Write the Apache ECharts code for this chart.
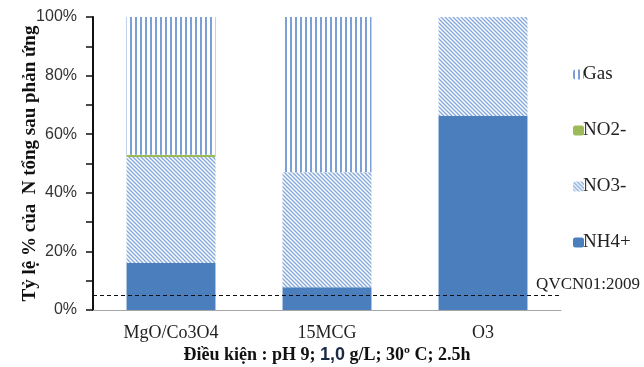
<!DOCTYPE html>
<html>
<head>
<meta charset="utf-8">
<script src="https://cdn.jsdelivr.net/npm/echarts@6/dist/echarts.min.js"></script>
<style>
  html, body { margin: 0; padding: 0; background: #fff; }
  #chart { width: 644px; height: 367px; }
</style>
</head>
<body>
<div id="chart"></div>
<script>
// du lieu doc tu hinh
const categories = ['MgO/Co3O4', '15MCG', 'O3'];
const nh4 = [16, 7.8, 66.2];
const no3 = [36.2, 39.2, 33.8];
const no2 = [0.8, 0, 0];
const gas = [47, 53, 0];
const qvcnLimit = 5;
const yTicks = [0, 20, 40, 60, 80, 100];

const SERIF = '"Liberation Serif", "DejaVu Serif", serif';
const SANS = '"Liberation Sans", Arial, sans-serif';

// nen soc cheo cho NO3- (canvas)
function makeDiagonal() {
  const s = 4;
  const c = document.createElement('canvas');
  c.width = s; c.height = s;
  const ctx = c.getContext('2d');
  ctx.fillStyle = '#fff';
  ctx.fillRect(0, 0, s, s);
  ctx.strokeStyle = '#86a9db';
  ctx.lineWidth = 1.4;
  ctx.beginPath();
  ctx.moveTo(-1, -1); ctx.lineTo(s + 1, s + 1);
  ctx.moveTo(-1 - s, -1); ctx.lineTo(1, s + 1);
  ctx.moveTo(s - 1, -1); ctx.lineTo(2 * s + 1, s + 1);
  ctx.stroke();
  return c;
}

const chart = echarts.init(document.getElementById('chart'));

const option = {
  animation: false,
  backgroundColor: '#fff',
  grid: { left: 93, right: 83, top: 17, bottom: 57, containLabel: false, outerBoundsMode: 'none' },
  legend: {
    orient: 'vertical',
    left: 568,
    top: 60,
    itemWidth: 11,
    itemHeight: 10,
    itemGap: 37,
    data: ['Gas', 'NO2-', 'NO3-', 'NH4+'],
    textStyle: { fontFamily: SERIF, fontSize: 19, color: '#222', padding: [0, 0, 0, -6] }
  },
  xAxis: {
    type: 'category',
    data: categories,
    axisLine: { lineStyle: { color: '#a6a6a6', width: 1 } },
    axisTick: { show: false },
    axisLabel: { fontFamily: SERIF, fontSize: 18, color: '#222', margin: 14 },
    name: '{b|Điều kiện : pH 9; }{n|1,0}{b| g/L; 30º C; 2.5h}',
    nameLocation: 'middle',
    nameGap: 36,
    nameMoveOverlap: false,
    nameTextStyle: {
      rich: {
        b: { fontFamily: SERIF, fontSize: 18, fontWeight: 'bold', color: '#111' },
        n: { fontFamily: SANS, fontSize: 18, fontWeight: 'bold', color: '#1a2a44' }
      }
    }
  },
  yAxis: {
    type: 'value',
    min: 0,
    max: 100,
    interval: 10,
    splitLine: { show: false },
    axisLine: { show: true, lineStyle: { color: '#111', width: 2 } },
    axisTick: { show: true, length: 7, lineStyle: { color: '#111', width: 1.5 } },
    axisLabel: {
      fontFamily: SANS,
      fontSize: 16,
      color: '#333',
      margin: 16,
      formatter: v => yTicks.includes(v) ? v + '%' : ''
    },
    name: 'Tỷ lệ % của  N tổng sau phản ứng',
    nameLocation: 'middle',
    nameGap: 53,
    nameMoveOverlap: false,
    nameTextStyle: { fontFamily: SERIF, fontSize: 19, fontWeight: 'bold', color: '#111' }
  },
  series: [
    {
      name: 'NH4+',
      type: 'bar',
      stack: 'total',
      barWidth: '57%',
      data: nh4,
      itemStyle: { color: '#4a7ebd' },
      markLine: {
        symbol: 'none',
        silent: true,
        lineStyle: { color: '#111', type: [4, 3], width: 1.2 },
        label: {
          show: true,
          position: 'insideEndTop',
          formatter: 'QVCN01:2009',
          fontFamily: SERIF,
          fontSize: 17,
          color: '#222',
          distance: [-79, 2]
        },
        data: [{ yAxis: qvcnLimit }]
      }
    },
    {
      name: 'NO3-',
      type: 'bar',
      stack: 'total',
      data: no3,
      itemStyle: { color: { image: makeDiagonal(), repeat: 'repeat' } }
    },
    {
      name: 'NO2-',
      type: 'bar',
      stack: 'total',
      data: no2,
      itemStyle: { color: '#9bbb59' }
    },
    {
      name: 'Gas',
      type: 'bar',
      stack: 'total',
      data: gas,
      itemStyle: {
        color: '#ffffff',
        decal: {
          symbol: 'rect',
          symbolSize: 1,
          color: '#7c9fd5',
          dashArrayX: [2, 3],
          dashArrayY: [10, 0],
          rotation: 0
        }
      }
    }
  ]
};

chart.setOption(option);
</script>
</body>
</html>
